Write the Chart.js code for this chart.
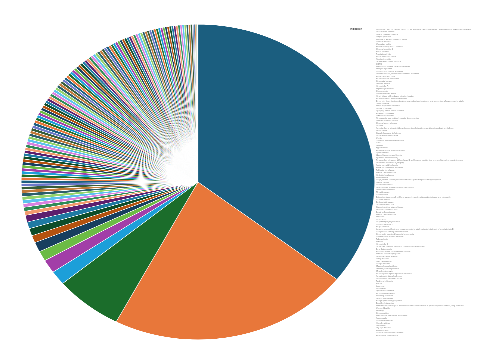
<!DOCTYPE html>
<html>
<head>
<meta charset="utf-8">
<script src="https://cdn.jsdelivr.net/npm/chart.js@4.4.1/dist/chart.umd.min.js"></script>
<style>
  html, body { margin: 0; padding: 0; overflow: hidden; background: #fff; width: 496px; height: 360px; }
  #wrap { position: absolute; left: 0; top: 0; width: 1328px; height: 1080px;
          transform: scale(0.373494, 0.333333); transform-origin: 0 0; }
</style>
</head>
<body>
<div id="wrap"><canvas id="c"></canvas></div>
<script>
const legendTitle = 'Indication';

const indications = [
  'Non-small cell lung cancer (NSCLC), locally advanced or metastatic, after platinum-based chemotherapy',
  'Rheumatoid arthritis',
  'Type 2 diabetes mellitus',
  'Plaque psoriasis',
  'Multiple sclerosis, relapsing forms',
  "Crohn's disease",
  'Ulcerative colitis',
  'Breast cancer, HER2-positive',
  'Chronic hepatitis C',
  'HIV-1 infection',
  'Psoriatic arthritis',
  'Ankylosing spondylitis',
  'Atopic dermatitis',
  'Severe eosinophilic asthma',
  'COPD',
  'Melanoma, unresectable or metastatic',
  'Multiple myeloma',
  'Chronic lymphocytic leukemia',
  'Prostate cancer, metastatic castration-resistant',
  'Renal cell carcinoma',
  'Hepatocellular carcinoma',
  'Colorectal cancer',
  'Ovarian cancer',
  'Hemophilia A',
  'Migraine prevention',
  'Osteoporosis',
  'Hypercholesterolemia',
  'Heart failure with reduced ejection fraction',
  'Atrial fibrillation, stroke prevention',
  'Deep vein thrombosis and pulmonary embolism, treatment and prevention of recurrence in adults',
  'Schizophrenia',
  'Major depressive disorder',
  'Bipolar I disorder',
  'Epilepsy, partial-onset seizures',
  "Parkinson's disease",
  "Alzheimer's disease",
  'Neovascular age-related macular degeneration',
  'Diabetic macular edema',
  'Chronic kidney disease',
  'Anemia',
  'Anemia due to chronic kidney disease in adult patients on dialysis and not on dialysis',
  'Neutropenia',
  'Growth hormone deficiency',
  'Hidradenitis suppurativa',
  'Uveitis',
  'Systemic lupus erythematosus',
  'Gout',
  'Obesity',
  'Hypertension',
  'Pulmonary arterial hypertension',
  'Cystic fibrosis',
  'Idiopathic pulmonary fibrosis',
  'Spinal muscular atrophy',
  'Relapsed or refractory diffuse large B-cell lymphoma after two or more lines of systemic therapy',
  'Duchenne muscular dystrophy',
  'Acute myeloid leukemia',
  'Acute lymphoblastic leukemia',
  'Follicular lymphoma',
  'Mantle cell lymphoma',
  'Hodgkin lymphoma',
  'Myelofibrosis',
  'Polycythemia vera in patients with inadequate response to hydroxyurea',
  'Gastric cancer',
  'Pancreatic cancer',
  'Head and neck squamous cell carcinoma',
  'Urothelial carcinoma',
  'Thyroid cancer',
  'Glioblastoma',
  'Extensive-stage small cell lung cancer in combination with platinum and etoposide',
  'Cervical cancer',
  'Endometrial cancer',
  'Soft tissue sarcoma',
  'Gastrointestinal stromal tumor',
  'Neuroendocrine tumors',
  'Basal cell carcinoma',
  'Merkel cell carcinoma',
  'Influenza',
  'COVID-19',
  'Respiratory syncytial virus',
  'Chronic hepatitis B',
  'Herpes zoster',
  'Invasive aspergillosis and mucormycosis in adult patients intolerant of amphotericin B',
  'Complicated urinary tract infections',
  'Community-acquired bacterial pneumonia',
  'Clostridioides difficile infection',
  'Tuberculosis',
  'Malaria',
  'Hemophilia B',
  'Sickle cell disease, reduction of vaso-occlusive crises',
  'Beta thalassemia',
  'Paroxysmal nocturnal hemoglobinuria',
  'Immune thrombocytopenia',
  'Hereditary angioedema',
  'Fabry disease',
  'Gaucher disease',
  'Pompe disease',
  'Mucopolysaccharidosis',
  'Transthyretin amyloidosis',
  'Myasthenia gravis',
  'Neuromyelitis optica spectrum disorder',
  'Amyotrophic lateral sclerosis',
  "Huntington's disease chorea",
  'Tardive dyskinesia',
  'ADHD',
  'Insomnia',
  'Narcolepsy',
  'Opioid use disorder',
  'Alcohol dependence',
  'Smoking cessation',
  'Overactive bladder',
  'Benign prostatic hyperplasia',
  'Erectile dysfunction',
  'Moderate to severe pain associated with endometriosis in premenopausal women, long-term use',
  'Uterine fibroids',
  'Infertility',
  'Contraception',
  'Menopausal vasomotor symptoms',
  'Acromegaly',
  "Cushing's disease",
  'Hypothyroidism',
  'Glaucoma',
  'Dry eye disease',
  'Acne vulgaris',
  'Chronic spontaneous urticaria',
  'Eosinophilic esophagitis'
];

const shares = [
  35.71, 22.14, 6.24,
  1.45, 1.38, 1.03, 1.00, 0.75, 0.75, 0.70, 0.69,
  0.42, 0.40, 0.38, 0.37, 0.36, 0.35, 0.34, 0.33, 0.32, 0.32,
  0.31, 0.31, 0.31, 0.31, 0.31, 0.31,
  0.30, 0.30, 0.30, 0.30, 0.30, 0.30, 0.30,
  0.29, 0.29, 0.29, 0.29, 0.29, 0.29, 0.29,
  0.28, 0.28, 0.28, 0.28, 0.28, 0.28, 0.28, 0.28,
  0.27, 0.27, 0.27, 0.27, 0.27, 0.27, 0.27, 0.27,
  0.26, 0.26, 0.26, 0.26, 0.26, 0.26, 0.26, 0.26,
  0.25, 0.25, 0.25, 0.25, 0.25, 0.25, 0.25, 0.25,
  0.24, 0.24, 0.24, 0.24, 0.24, 0.24, 0.24, 0.24,
  0.23, 0.23, 0.23, 0.23, 0.23, 0.23, 0.23, 0.23,
  0.22, 0.22, 0.22, 0.22, 0.22, 0.22, 0.22, 0.22,
  0.21, 0.21, 0.21, 0.21, 0.21, 0.21, 0.21, 0.21,
  0.20, 0.20, 0.20, 0.20, 0.20, 0.20, 0.20,
  0.19, 0.19, 0.19, 0.19, 0.19, 0.19, 0.19,
  0.12, 0.10, 0.09, 0.08, 0.06, 0.05
];

const palette = [
  '#1b5e7f', '#e8773a', '#1b6d2b', '#1c9fd9', '#a23ea8',
  '#6cbb45', '#173f5f', '#b4520f', '#0e4d2a', '#1f7aa3',
  '#5d1f6e', '#f29b6e', '#2e8b57', '#d883e0', '#5cc3ee',
  '#93d36c', '#2b5f6b', '#c07a3a', '#355c3a', '#6d79c9'
];

const sliceColors = indications.map((_, i) => palette[i % palette.length]);

const squareArea = {
  id: 'squareArea',
  afterLayout(chart) {
    const a = chart.chartArea;
    a.right = a.left + a.height;
    a.width = a.height;
  }
};

new Chart(document.getElementById('c'), {
  type: 'pie',
  data: {
    labels: indications,
    datasets: [{
      data: shares,
      backgroundColor: sliceColors,
      borderColor: '#ffffff',
      borderWidth: 1.5
    }]
  },
  plugins: [squareArea],
  options: {
    responsive: true,
    maintainAspectRatio: false,
    animation: false,
    layout: { padding: { left: 56, right: 61, top: 72, bottom: 60 } },
    plugins: {
      tooltip: { enabled: false },
      legend: {
        position: 'right',
        align: 'start',
        maxWidth: 330,
        title: {
          display: true,
          text: legendTitle,
          position: 'start',
          color: '#555',
          font: { size: 7, weight: 'bold' },
          padding: { top: 12, bottom: -8.55 }
        },
        labels: {
          color: '#8a8a8a',
          font: { size: 5.5 },
          boxWidth: 65,
          boxHeight: 5.5,
          padding: 1.9,
          generateLabels(chart) {
            const items = Chart.overrides.doughnut.plugins.legend.labels.generateLabels(chart);
            return items.map(it => Object.assign(it, {
              fillStyle: 'rgba(0,0,0,0)',
              strokeStyle: 'rgba(0,0,0,0)',
              lineWidth: 0
            }));
          }
        }
      }
    }
  }
});
</script>
</body>
</html>
